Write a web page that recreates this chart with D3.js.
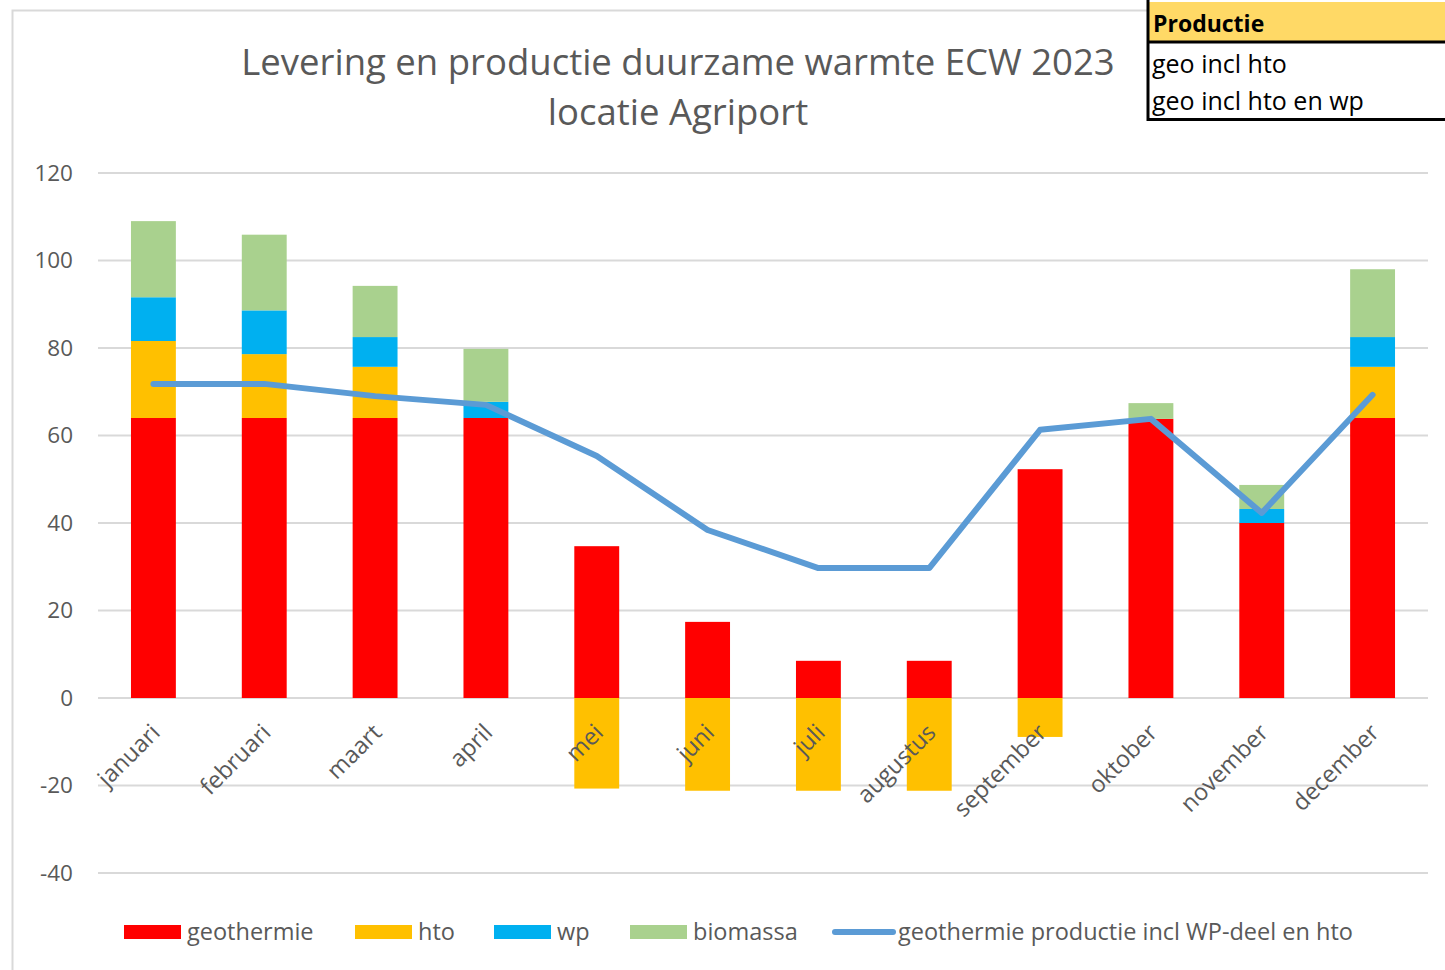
<!DOCTYPE html>
<html>
<head>
<meta charset="utf-8">
<script src="https://cdn.jsdelivr.net/npm/d3@7"></script>
<style>
  body { margin: 0; background: #fff; }
  svg { font-family: "Open Sans", sans-serif; }
</style>
</head>
<body>
<div id="chart"></div>
<script>
var months = ["januari", "februari", "maart", "april", "mei", "juni", "juli",
    "augustus", "september", "oktober", "november", "december"];
var geothermie = [64, 64, 64, 64, 34.7, 17.4, 8.5, 8.5, 52.3, 63.8, 40, 64];
var hto = [17.6, 14.6, 11.7, 0, -20.7, -21.2, -21.2, -21.2, -8.9, 0, 0, 11.7];
var wp = [10, 10, 6.8, 3.7, 0, 0, 0, 0, 0, 0, 3.2, 6.8];
var biomassa = [17.4, 17.3, 11.7, 12.1, 0, 0, 0, 0, 0, 3.6, 5.5, 15.5];
var productie = [71.8, 71.8, 69, 67, 55.3, 38.4, 29.7, 29.7, 61.3, 63.8, 42.3, 69.3];
var yTicks = [-40, -20, 0, 20, 40, 60, 80, 100, 120];
var tableRows = ["geo incl hto", "geo incl hto en wp"];

var seriesNames = ["geothermie", "hto", "wp", "biomassa"];
var seriesData = [geothermie, hto, wp, biomassa];
var colors = ["#ff0000", "#ffc000", "#00b0f0", "#a9d18e"];
var lineColor = "#5b9bd5";
var textColor = "#595959";

var W = 1445, H = 970;
var margin = { top: 173, right: 17, bottom: 97, left: 98 };

var svg = d3.select("#chart").append("svg")
    .attr("width", W).attr("height", H);

// chart frame
svg.append("path")
    .attr("d", "M12.5,970 L12.5,10.5 L1147,10.5")
    .attr("fill", "none").attr("stroke", "#d9d9d9").attr("stroke-width", 2);

var x = d3.scaleBand().domain(months)
    .range([margin.left, W - margin.right])
    .paddingInner(0.595).paddingOuter(0.2975);
var y = d3.scaleLinear().domain([-40, 120])
    .range([H - margin.bottom, margin.top]);

// gridlines
svg.append("g").selectAll("line").data(yTicks).join("line")
    .attr("x1", margin.left).attr("x2", W - margin.right)
    .attr("y1", function (d) { return y(d); }).attr("y2", function (d) { return y(d); })
    .attr("stroke", "#d9d9d9").attr("stroke-width", 2);

var yAxis = svg.append("g")
    .attr("transform", "translate(" + (margin.left - 25) + ",0)")
    .call(d3.axisLeft(y).tickValues(yTicks).tickSize(0).tickPadding(0)
        .tickFormat(function (d) { return String(d); }));
yAxis.select(".domain").remove();
yAxis.selectAll("text").attr("fill", textColor).style("font-size", "22.5px")
    .style("font-family", "Open Sans, sans-serif");

// stacked bars: positives upward, negatives downward
var bars = svg.append("g");
months.forEach(function (m, i) {
    var pos = 0, neg = 0;
    seriesData.forEach(function (s, k) {
        var v = s[i];
        if (!v) return;
        var y0, y1;
        if (v >= 0) { y0 = pos; y1 = pos + v; pos = y1; }
        else { y0 = neg; y1 = neg + v; neg = y1; }
        bars.append("rect")
            .attr("x", x(m))
            .attr("width", x.bandwidth())
            .attr("y", y(Math.max(y0, y1)))
            .attr("height", Math.abs(y(y0) - y(y1)))
            .attr("fill", colors[k]);
    });
});

// line
var line = d3.line()
    .x(function (d, i) { return x(months[i]) + x.bandwidth() / 2; })
    .y(function (d) { return y(d); });
svg.append("path").datum(productie)
    .attr("d", line)
    .attr("fill", "none").attr("stroke", lineColor)
    .attr("stroke-width", 6).attr("stroke-linecap", "round")
    .attr("stroke-linejoin", "round");

// x labels
svg.append("g").selectAll("text").data(months).join("text")
    .attr("transform", function (d) {
        return "translate(" + (x(d) + x.bandwidth() / 2 + 8) + "," + (y(0) + 36) + ") rotate(-45)";
    })
    .attr("text-anchor", "end")
    .attr("fill", textColor)
    .style("font-size", "23.5px")
    .text(function (d) { return d; });

// title
var title = svg.append("text")
    .attr("x", 678).attr("text-anchor", "middle")
    .attr("fill", textColor).style("font-size", "36.5px");
title.append("tspan").attr("x", 678).attr("y", 75)
    .text("Levering en productie duurzame warmte ECW 2023");
title.append("tspan").attr("x", 678).attr("y", 125).text("locatie Agriport");

// legend
var legendItems = [
    { name: "geothermie", color: colors[0], x: 124, type: "rect" },
    { name: "hto", color: colors[1], x: 355, type: "rect" },
    { name: "wp", color: colors[2], x: 494, type: "rect" },
    { name: "biomassa", color: colors[3], x: 630, type: "rect" },
    { name: "geothermie productie incl WP-deel en hto", color: lineColor, x: 833, type: "line" }
];
var legend = svg.append("g").selectAll("g").data(legendItems).join("g")
    .attr("transform", function (d) { return "translate(" + d.x + ",932)"; });
legend.filter(function (d) { return d.type === "rect"; }).append("rect")
    .attr("x", 0).attr("y", -7).attr("width", 57).attr("height", 14)
    .attr("fill", function (d) { return d.color; });
legend.filter(function (d) { return d.type === "line"; }).append("line")
    .attr("x1", 2).attr("x2", 60).attr("y1", 0).attr("y2", 0)
    .attr("stroke", lineColor).attr("stroke-width", 6).attr("stroke-linecap", "round");
legend.append("text")
    .attr("x", function (d) { return d.type === "line" ? 65 : 63; })
    .attr("y", 8)
    .attr("fill", textColor).style("font-size", "23.5px")
    .text(function (d) { return d.name; });

// table top right
var table = svg.append("g");
table.append("rect").attr("x", 1148).attr("y", 2).attr("width", 300).attr("height", 39)
    .attr("fill", "#ffd966");
table.append("rect").attr("x", 1148).attr("y", 42).attr("width", 300).attr("height", 76)
    .attr("fill", "#fff");
table.append("line").attr("x1", 1148).attr("x2", 1148).attr("y1", 0).attr("y2", 121)
    .attr("stroke", "#000").attr("stroke-width", 3);
table.append("line").attr("x1", 1147).attr("x2", 1445).attr("y1", 42).attr("y2", 42)
    .attr("stroke", "#000").attr("stroke-width", 3);
table.append("line").attr("x1", 1147).attr("x2", 1445).attr("y1", 119.5).attr("y2", 119.5)
    .attr("stroke", "#000").attr("stroke-width", 3);
table.append("text").attr("x", 1153).attr("y", 32)
    .style("font-size", "23px").style("font-weight", "bold").attr("fill", "#000")
    .text("Productie");
table.selectAll("text.row").data(tableRows).join("text")
    .attr("class", "row")
    .attr("x", 1152).attr("y", function (d, i) { return 73 + i * 37; })
    .style("font-size", "25px").attr("fill", "#000")
    .text(function (d) { return d; });
</script>
</body>
</html>
